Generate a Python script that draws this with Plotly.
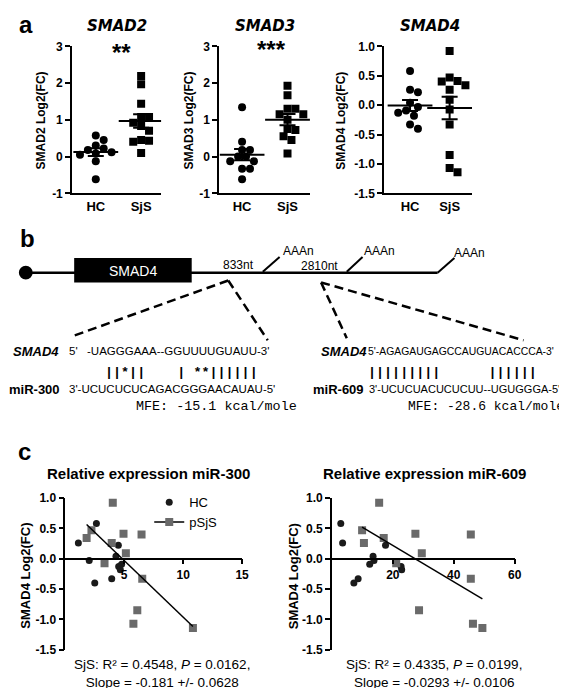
import numpy as np
import plotly.graph_objects as go

W, H = 567, 688
FONT = "Liberation Sans"
MONO = "Liberation Mono"

# ---------------- data ----------------
groups = ["HC", "SjS"]
smad2_hc = [0.57, 0.45, 0.30, 0.22, 0.18, 0.12, 0.08, 0.05, -0.13, -0.62]
smad2_sjs = [2.19, 1.97, 1.44, 1.08, 1.08, 0.92, 0.83, 0.70, 0.45, 0.43, 0.40, 0.10]
smad3_hc = [1.34, 0.40, 0.18, 0.18, 0.0, 0.0, -0.13, -0.13, -0.33, -0.33, -0.62]
smad3_sjs = [1.93, 1.67, 1.30, 1.30, 1.15, 1.15, 1.00, 0.75, 0.72, 0.55, 0.45, 0.08]
smad4_hc = [0.58, 0.26, 0.22, 0.04, -0.03, -0.09, -0.13, -0.18, -0.33, -0.40]
smad4_sjs = [0.92, 0.47, 0.40, 0.41, 0.34, 0.26, 0.09, -0.075, -0.33, -0.85, -1.07, -1.14]
mir300_hc = [2.64, 1.11, 4.5, 4.3, 2.03, 4.78, 4.53, 4.67, 3.94, 2.5]
mir300_sjs = [4.03, 2.22, 6.47, 4.94, 1.81, 3.94, 5.14, 3.33, 6.53, 6.11, 5.78, 10.83]
mir609_hc = [2.9, 3.5, 17.6, 13.5, 13.8, 12.4, 22.7, 22.9, 8.6, 7.2]
mir609_sjs = [15.5, 9.9, 45.6, 27.4, 17.0, 10.5, 29.5, 21.1, 45.6, 28.6, 46.3, 49.4]

a_genes = ["SMAD2", "SMAD3", "SMAD4"]
a_stars = ["**", "***", ""]
a_yticks_23 = [-1, 0, 1, 2, 3]
a_yticklabels_23 = ["-1", "0", "1", "2", "3"]
a_yticks_4 = [-1.5, -1.0, -0.5, 0.0, 0.5, 1.0]
a_yticklabels_4 = ["-1.5", "-1.0", "-0.5", "0.0", "0.5", "1.0"]
c_xticks_300 = [5, 10, 15]
c_xticks_609 = [20, 40, 60]
c_yticks = [-1.5, -1.0, -0.5, 0.0, 0.5, 1.0]
c_yticklabels = ["-1.5", "-1.0", "-0.5", "0.0", "0.5", "1.0"]
c_titles = ["Relative expression miR-300", "Relative expression miR-609"]
c_stats = [("SjS: R\u00b2 = 0.4548, <i>P</i> = 0.0162,", "Slope = -0.181 +/- 0.0628"),
           ("SjS: R\u00b2 = 0.4335, <i>P</i> = 0.0199,", "Slope = -0.0293 +/- 0.0106")]
legend_names = ["HC", "pSjS"]

seq_smad4_300 = "-UAGGGAAA--GGUUUUGUAUU-3'"
seq_pairs_300 = "||*||    | **||||||"
seq_mir300 = "3'-UCUCUCUCAGACGGGAACAUAU-5'"
mfe_300 = "MFE: -15.1 kcal/mole"
seq_smad4_609 = "5'-AGAGAUGAGCCAUGUACACCCA-3'"
seq_pairs_609 = "|||||||||      ||||||"
seq_mir609 = "3'-UCUCUACUCUCUU--UGUGGGA-5'"
mfe_609 = "MFE: -28.6 kcal/mole"
site_labels = ["833nt", "2810nt"]
polyA = "AAAn"

# ---------------- helpers ----------------
def fx(p):
    return p / W


def fy(p):
    return 1 - p / H


def beeswarm(vals, sx, sy, d):
    v = np.asarray(vals, float)
    order = np.argsort(-v, kind="stable")
    placed = []
    off = np.zeros(len(v))
    steps = [0.0]
    for k in range(1, 40):
        steps += [k * d / 2.0, -k * d / 2.0]
    for i in order:
        yp = v[i] * sy
        chosen = 0.0
        for c in steps:
            if all((c - a) ** 2 + (yp - b) ** 2 >= (d * 0.98) ** 2 for a, b in placed):
                chosen = c
                break
        placed.append((chosen, yp))
        off[i] = chosen / sx
    return off


annotations = []
shapes = []


def ann(text, x, y, size=12, family=FONT, color="black", xanchor="center",
        yanchor="middle", angle=0):
    annotations.append(dict(
        text=text, x=fx(x), y=fy(y),
        xref="paper", yref="paper", xanchor=xanchor, yanchor=yanchor,
        showarrow=False, textangle=angle, align="center",
        font=dict(family=family, size=size, color=color)))


def line(x0, y0, x1, y1, width=2.5, dash="solid", color="black"):
    shapes.append(dict(type="line", xref="paper", yref="paper",
                       x0=fx(x0), y0=fy(y0), x1=fx(x1), y1=fy(y1),
                       line=dict(color=color, width=width, dash=dash)))


fig = go.Figure()
layout = {}

# ---------------- panel a ----------------
A_TOP, A_BOT = 32, 182
a_specs = [
    (smad2_hc, smad2_sjs, (65, 155), (-0.52, 1.44), (-1, 3), a_yticks_23, a_yticklabels_23, 33, 110, (0.57, 2.82)),
    (smad3_hc, smad3_sjs, (214, 306), (-0.5, 1.5), (-1, 3), a_yticks_23, a_yticklabels_23, 183, 260, (0.65, 2.92)),
    (smad4_hc, smad4_sjs, (381, 470), (-0.65, 1.57), (-1.5, 1.0), a_yticks_4, a_yticklabels_4, 337, 427, None),
]
for i, (hc, sjs, xd, xr, yr, yt, ytl, ylab_x, title_x, star_pos) in enumerate(a_specs):
    n = "" if i == 0 else str(i + 1)
    xa, ya = "x" + n, "y" + n
    sx = (xd[1] - xd[0]) / (xr[1] - xr[0])
    sy = (A_BOT - A_TOP) / (yr[1] - yr[0])
    d = 8.0
    for gi, (vals, sym) in enumerate([(hc, "circle"), (sjs, "square")]):
        offs = beeswarm(vals, sx, sy, d)
        fig.add_trace(go.Scatter(
            x=gi + offs, y=vals, mode="markers", xaxis=xa, yaxis=ya, showlegend=False,
            marker=dict(symbol=sym, size=8, color="black", line=dict(width=0))))
    means = [float(np.mean(hc)), float(np.mean(sjs))]
    sems = [float(np.std(hc, ddof=1) / np.sqrt(len(hc))), float(np.std(sjs, ddof=1) / np.sqrt(len(sjs)))]
    fig.add_trace(go.Scatter(
        x=[0, 1], y=means, mode="markers", xaxis=xa, yaxis=ya, showlegend=False,
        marker=dict(symbol="line-ew", size=32, color="black", line=dict(width=2, color="black")),
        error_y=dict(type="data", array=sems, color="black", thickness=2, width=8)))
    layout["xaxis" + n] = dict(
        domain=[fx(xd[0]), fx(xd[1])], range=list(xr), anchor=ya,
        tickvals=[0, 1], ticktext=["<b>%s</b>" % g for g in groups], ticks="",
        showline=True, linecolor="black", linewidth=2, showgrid=False, zeroline=False,
        tickfont=dict(family=FONT, size=13, color="black"), fixedrange=True)
    layout["yaxis" + n] = dict(
        domain=[fy(A_BOT), fy(A_TOP)], range=list(yr), anchor=xa,
        tickvals=yt, ticktext=["<b>%s</b>" % t for t in ytl], ticks="outside",
        ticklen=5, tickwidth=2, tickcolor="black",
        showline=True, linecolor="black", linewidth=2, showgrid=False, zeroline=False,
        tickfont=dict(family=FONT, size=12, color="black"), fixedrange=True)
    ann("<b>%s Log2(FC)</b>" % a_genes[i], ylab_x, (A_TOP + A_BOT) / 2 + 1, size=12, angle=-90)
    ann("<b><i>%s</i></b>" % a_genes[i], title_x, 11, size=15, family="DejaVu Sans")
    if star_pos is not None:
        annotations.append(dict(text="<b>%s</b>" % a_stars[i], x=star_pos[0], y=star_pos[1],
                                xref=xa, yref=ya, showarrow=False, xanchor="center", yanchor="middle",
                                font=dict(family=FONT, size=24, color="black")))
ann("<b>a</b>", 18, 10, size=24)

# ---------------- panel b ----------------
ann("<b>b</b>", 20, 228, size=24)
line(18, 263, 435, 263, width=2.5)
shapes.append(dict(type="circle", xref="paper", yref="paper", fillcolor="black",
                   line=dict(color="black", width=0),
                   x0=fx(11), x1=fx(25), y0=fy(270), y1=fy(256)))
shapes.append(dict(type="rect", xref="paper", yref="paper", fillcolor="black",
                   line=dict(color="black", width=0),
                   x0=fx(67), x1=fx(186), y0=fy(273), y1=fy(248)))
ann("SMAD4", 127, 261, size=14, color="white")
ann(site_labels[0], 233, 255, size=12)
ann(site_labels[1], 315, 256, size=12)
for (sx0, sy0, sx1, sy1, tx, ty) in [(258, 262, 275, 247, 276, 241),
                                     (343, 262, 359, 247, 358, 241),
                                     (435, 263, 452, 248, 450, 243)]:
    line(sx0, sy0, sx1, sy1, width=2)
    ann(polyA, tx, ty, size=12, xanchor="left")
dash = "9px,5px"
line(223, 271, 65, 328, width=2.5, dash=dash)
line(223, 271, 263, 332, width=2.5, dash=dash)
line(317, 273, 343, 330, width=2.5, dash=dash)
line(317, 273, 522, 332, width=2.5, dash=dash)

NB = "\u00a0"
ann("<b><i>SMAD4</i></b>", 54, 343, size=13, xanchor="right")
ann("5'", 60, 343, size=11.5, xanchor="left")
ann(seq_smad4_300, 78, 343, size=11.5, xanchor="left")
ann("<b>%s</b>" % seq_pairs_300.replace(" ", NB), 96, 365, size=13.4, family=MONO, xanchor="left")
ann("<b>miR-300</b>", 55, 382, size=13, xanchor="right")
ann(seq_mir300, 60, 382, size=11.5, xanchor="left")
ann(mfe_300, 128, 400, size=13.4, family=MONO, xanchor="left")

ann("<b><i>SMAD4</i></b>", 366, 343, size=13, xanchor="right")
ann(seq_smad4_609, 362, 343, size=10.4, xanchor="left")
ann("<b>%s</b>" % seq_pairs_609.replace(" ", NB), 362, 365, size=13.4, family=MONO, xanchor="left")
ann("<b>miR-609</b>", 362, 382, size=13, xanchor="right")
ann(seq_mir609, 363, 382, size=11.0, xanchor="left")
ann(mfe_609, 403, 400, size=13, family=MONO, xanchor="left")

# ---------------- panel c ----------------
ann("<b>c</b>", 17, 446, size=24)
C_TOP, C_BOT = 493, 648
c_yr = (-1.5, 1.0)
zero_px = C_TOP + (c_yr[1] - 0) / (c_yr[1] - c_yr[0]) * (C_BOT - C_TOP)
c_specs = [
    (mir300_hc, mir300_sjs, (58, 237), (0, 15), c_xticks_300, 18, 142, 156),
    (mir609_hc, mir609_sjs, (328, 513), (0, 60), c_xticks_609, 289, 422, 431),
]
GRAY = "#6a6a6a"
for j, (hc_x, sjs_x, xd, xr, xt, ylab_x, title_x, stat_x) in enumerate(c_specs):
    n = str(j + 4)
    xa, ya = "x" + n, "y" + n
    fig.add_trace(go.Scatter(x=hc_x, y=smad4_hc, mode="markers", xaxis=xa, yaxis=ya,
                             showlegend=False,
                             marker=dict(symbol="circle", size=7, color="#1a1a1a")))
    fig.add_trace(go.Scatter(x=sjs_x, y=smad4_sjs, mode="markers", xaxis=xa, yaxis=ya,
                             showlegend=False,
                             marker=dict(symbol="square", size=8, color=GRAY)))
    slope, icpt = np.polyfit(sjs_x, smad4_sjs, 1)
    xs = np.array([min(sjs_x), max(sjs_x)])
    fig.add_trace(go.Scatter(x=xs, y=slope * xs + icpt, mode="lines", xaxis=xa, yaxis=ya,
                             showlegend=False, line=dict(color="black", width=1.5)))
    layout["xaxis" + n] = dict(
        domain=[fx(xd[0]), fx(xd[1])], range=list(xr), anchor="free", position=fy(zero_px),
        tickvals=xt, ticktext=["<b>%s</b>" % t for t in xt], ticks="outside",
        ticklen=5, tickwidth=1.5, tickcolor="black",
        showline=True, linecolor="black", linewidth=1.5, showgrid=False, zeroline=False,
        tickfont=dict(family=FONT, size=12, color="black"), fixedrange=True)
    layout["yaxis" + n] = dict(
        domain=[fy(C_BOT), fy(C_TOP)], range=list(c_yr), anchor=xa,
        tickvals=c_yticks, ticktext=["<b>%s</b>" % t for t in c_yticklabels], ticks="outside",
        ticklen=5, tickwidth=1.5, tickcolor="black",
        showline=True, linecolor="black", linewidth=1.5, showgrid=False, zeroline=False,
        tickfont=dict(family=FONT, size=12, color="black"), fixedrange=True)
    ann("<b>SMAD4 Log2(FC)</b>", ylab_x, (C_TOP + C_BOT) / 2 + 2, size=13, angle=-90)
    ann("<b>%s</b>" % c_titles[j], title_x, 468, size=15)
    ann(c_stats[j][0] + "<br>" + c_stats[j][1], stat_x, 672, size=13.5)

# legend entries
fig.add_trace(go.Scatter(x=[None], y=[None], mode="markers", xaxis="x4", yaxis="y4",
                         name=legend_names[0],
                         marker=dict(symbol="circle", size=7, color="#1a1a1a")))
fig.add_trace(go.Scatter(x=[None], y=[None], mode="lines+markers", xaxis="x4", yaxis="y4",
                         name=legend_names[1], line=dict(color="black", width=1.5),
                         marker=dict(symbol="square", size=8, color=GRAY)))

fig.update_layout(
    width=W, height=H, autosize=False,
    margin=dict(l=0, r=0, t=0, b=0),
    paper_bgcolor="white", plot_bgcolor="white",
    font=dict(family=FONT, color="black"),
    showlegend=True,
    legend=dict(x=fx(143), y=fy(482), xanchor="left", yanchor="top",
                bgcolor="rgba(0,0,0,0)", font=dict(family=FONT, size=13, color="black"),
                tracegroupgap=0, itemwidth=30),
    annotations=annotations, shapes=shapes,
    **layout)

fig.write_html("out.html")
